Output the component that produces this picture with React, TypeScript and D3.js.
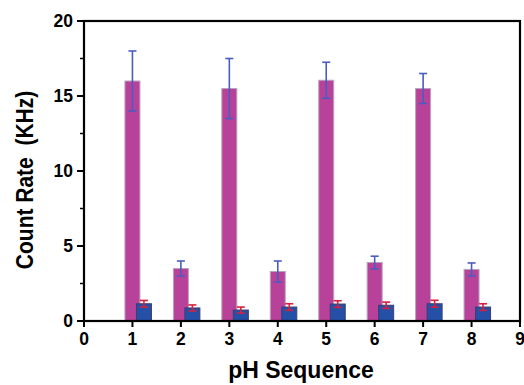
import { useEffect, useRef } from 'react'
import * as d3 from 'd3'

const seq = [1, 2, 3, 4, 5, 6, 7, 8]
const pinkVals = [16, 3.5, 15.5, 3.3, 16.05, 3.9, 15.5, 3.44]
const pinkErr = [2, 0.5, 2, 0.7, 1.2, 0.42, 1.0, 0.43]
const blueVals = [1.15, 0.87, 0.73, 0.93, 1.13, 1.05, 1.15, 0.93]
const blueErr = [0.22, 0.2, 0.2, 0.22, 0.22, 0.21, 0.23, 0.22]
const xTicks = [0, 1, 2, 3, 4, 5, 6, 7, 8, 9]
const yTicks = [0, 5, 10, 15, 20]
const yMinor = [2.5, 7.5, 12.5, 17.5]

export default function App() {
  const ref = useRef<SVGSVGElement>(null)

  useEffect(() => {
    const svg = d3.select(ref.current)
    svg.selectAll('*').remove()
    const L = 84, R = 520, T = 21, B = 321
    const x = d3.scaleLinear().domain([0, 9]).range([L, R])
    const y = d3.scaleLinear().domain([0, 20]).range([B, T])
    const font = 'Liberation Sans, Arial, sans-serif'
    const bw = 15

    const g = svg.append('g')

    // pink bars
    seq.forEach((s, i) => {
      g.append('rect').attr('x', x(s) - 7.5).attr('y', y(pinkVals[i]))
        .attr('width', bw).attr('height', y(0) - y(pinkVals[i]))
        .attr('fill', '#b8429a').attr('stroke', '#b9a3c0').attr('stroke-width', 1)
    })
    // blue bars
    seq.forEach((s, i) => {
      g.append('rect').attr('x', x(s) + 4).attr('y', y(blueVals[i]))
        .attr('width', bw).attr('height', y(0) - y(blueVals[i]))
        .attr('fill', '#2450a8').attr('stroke', '#3a3f6e').attr('stroke-width', 1)
    })

    const errBar = (cx: number, v: number, e: number, color: string) => {
      const y1 = y(v + e), y2 = y(v - e)
      g.append('line').attr('x1', cx).attr('x2', cx).attr('y1', y1).attr('y2', y2)
        .attr('stroke', color).attr('stroke-width', 1.6)
      ;[y1, y2].forEach(yy => {
        g.append('line').attr('x1', cx - 4).attr('x2', cx + 4).attr('y1', yy).attr('y2', yy)
          .attr('stroke', color).attr('stroke-width', 1.6)
      })
    }
    seq.forEach((s, i) => errBar(x(s), pinkVals[i], pinkErr[i], '#4a5cc0'))
    seq.forEach((s, i) => errBar(x(s) + 11.5, blueVals[i], blueErr[i], '#d8203c'))

    // frame
    g.append('rect').attr('x', L).attr('y', T).attr('width', R - L).attr('height', B - T)
      .attr('fill', 'none').attr('stroke', '#000').attr('stroke-width', 2.2)

    // y ticks
    yTicks.forEach(t => {
      g.append('line').attr('x1', L - 7).attr('x2', L).attr('y1', y(t)).attr('y2', y(t))
        .attr('stroke', '#000').attr('stroke-width', 2)
      g.append('text').attr('x', L - 11).attr('y', y(t)).attr('dy', '0.36em')
        .attr('text-anchor', 'end').attr('font-family', font).attr('font-weight', 'bold')
        .attr('font-size', 17.5).text(t)
    })
    yMinor.forEach(t => {
      g.append('line').attr('x1', L - 4).attr('x2', L).attr('y1', y(t)).attr('y2', y(t))
        .attr('stroke', '#000').attr('stroke-width', 1.5)
    })
    // x ticks
    xTicks.forEach(t => {
      g.append('line').attr('x1', x(t)).attr('x2', x(t)).attr('y1', B).attr('y2', B + 6)
        .attr('stroke', '#000').attr('stroke-width', 2)
      g.append('text').attr('x', x(t)).attr('y', B + 24)
        .attr('text-anchor', 'middle').attr('font-family', font).attr('font-weight', 'bold')
        .attr('font-size', 17.5).text(t)
    })

    g.append('text').attr('x', 301).attr('y', 378).attr('text-anchor', 'middle')
      .attr('font-family', font).attr('font-weight', 'bold').attr('font-size', 23)
      .text('pH Sequence')
    g.append('text').attr('transform', 'translate(33,180) rotate(-90) scale(1,1.15)')
      .attr('text-anchor', 'middle')
      .attr('font-family', font).attr('font-weight', 'bold').attr('font-size', 21)
      .attr('xml:space', 'preserve').style('white-space', 'pre')
      .text('Count Rate  (KHz)')
  }, [])

  return (
    <svg ref={ref} width={524} height={385}
      style={{ position: 'absolute', left: 0, top: 0, background: '#fff' }} />
  )
}
